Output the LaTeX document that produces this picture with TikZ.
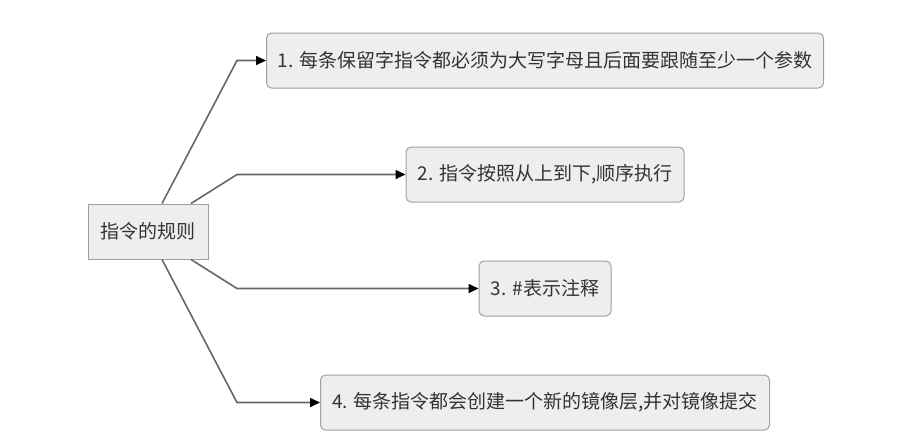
\documentclass[tikz,border=0pt]{standalone}
\usepackage{fontspec}
\newfontfamily\cjk{Noto Sans CJK SC}
\usetikzlibrary{arrows.meta}
\definecolor{boxfill}{HTML}{EEEEEE}
\definecolor{boxline}{HTML}{A0A0A0}
\definecolor{linegray}{HTML}{666666}
\definecolor{txtgray}{HTML}{333333}
\tikzset{
  rootbox/.style={draw=boxline,fill=boxfill,line width=1pt,minimum width=120pt,minimum height=55pt,
    inner sep=4pt,text=txtgray,font=\cjk\fontsize{19}{21}\selectfont},
  rulebox/.style={rootbox,rounded corners=5pt},
  conn/.style={draw=linegray,line width=1.6pt,-{Triangle[length=10pt,width=9pt,black]}}
}
\begin{document}
\begin{tikzpicture}[x=1pt,y=-1pt]
        \useasboundingbox (0,0) rectangle (923,445);
        %knoten
        \node[rootbox] (root) at (148,231.5) {指令的规则};
        \node[rulebox,minimum width=557pt] (r1) at (545,60.5) {1. 每条保留字指令都必须为大写字母且后面要跟随至少一个参数};
        \node[rulebox,minimum width=278pt] (r2) at (545,174.5) {2. 指令按照从上到下,顺序执行};
        \node[rulebox,minimum width=132pt] (r3) at (545,288.5) {3. \#表示注释};
        \node[rulebox,minimum width=449pt] (r4) at (545,402.5) {4. 每条指令都会创建一个新的镜像层,并对镜像提交};
        %verbindungen
        \draw[conn]([xshift=14pt]root.north)--(r1.west -| 237,0)--(r1.west);
        \draw[conn]([xshift=43pt]root.north)--(r2.west -| 237,0)--(r2.west);
        \draw[conn]([xshift=43pt]root.south)--(r3.west -| 237,0)--(r3.west);
        \draw[conn]([xshift=14pt]root.south)--(r4.west -| 237,0)--(r4.west);
    \end{tikzpicture}
\end{document}
